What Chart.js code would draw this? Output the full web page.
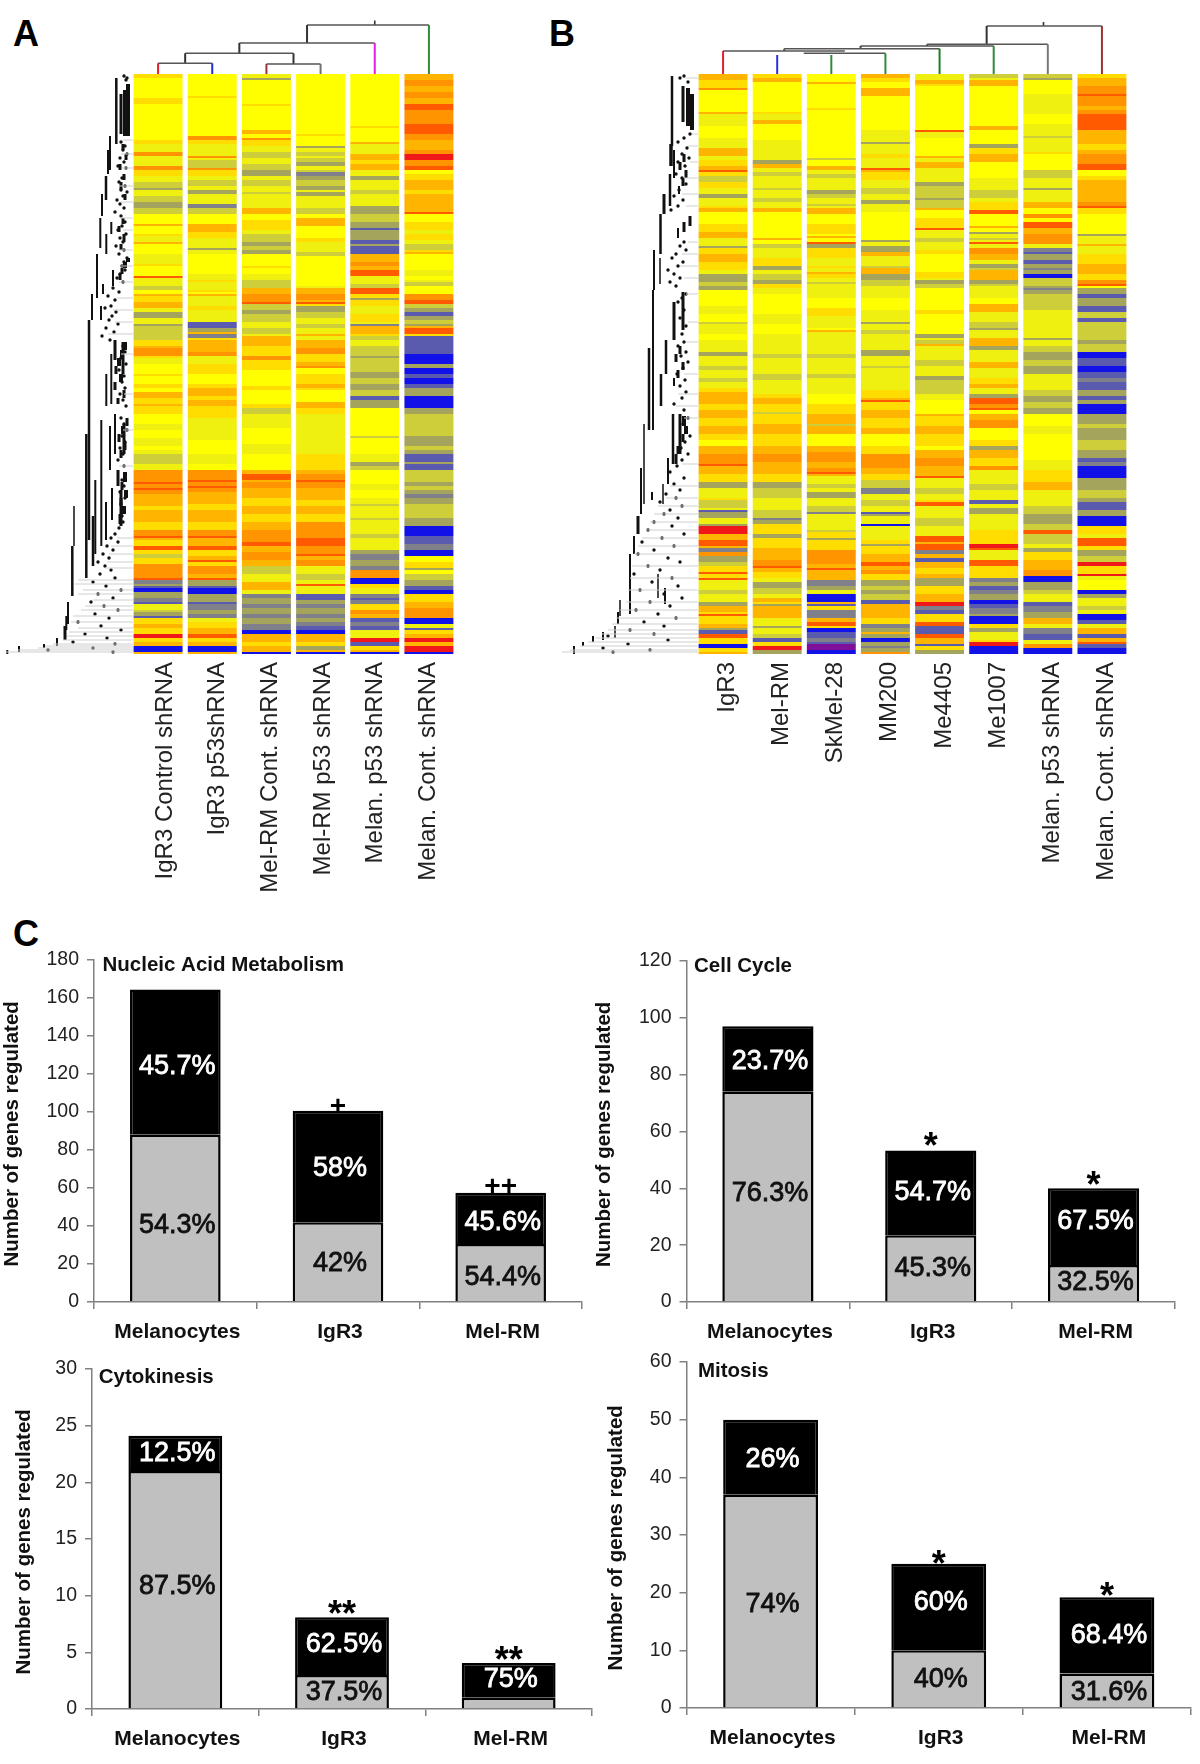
<!DOCTYPE html>
<html><head><meta charset="utf-8">
<script src="https://cdn.jsdelivr.net/npm/chart.js@4"></script>
<style>
html,body{margin:0;padding:0;background:#fff}
#page{position:relative;width:1200px;height:1764px;overflow:hidden;background:#fff}
canvas{position:absolute}
.letter{position:absolute;font:bold 36px "Liberation Sans",Arial,sans-serif;color:#000;line-height:36px}
</style></head><body>
<div id="page">
<div class="letter" style="left:13px;top:16px">A</div>
<div class="letter" style="left:549px;top:16px">B</div>
<div class="letter" style="left:13px;top:916px">C</div>
</div>
<script>
const FONT='"Liberation Sans", Arial, sans-serif';
// ---------- heat map level palette
const heatLevels={Y:'#FFFF00',y:'#F0F010',g:'#CECE3A',k:'#A4A45C',s:'#80808A',p:'#5A5AAE',B:'#1212E8',v:'#80109A',
 L:'#FFDD00',O:'#FFB400',o:'#FF9400',R:'#FF5A00',r:'#F01818'};
const totalRows=290;
// ---------- panel A: bands "startRow+level" per sample
const labelsA=['IgR3 Control shRNA','IgR3 p53shRNA','Mel-RM Cont. shRNA','Mel-RM p53 shRNA','Melan. p53 shRNA','Melan. Cont. shRNA'];
const a1="0L 2Y 12L 15Y 33L 35y 39o 41y 46o 48L 51y 54g 57k 58y 61g 64k 67g 70Y 75O 76Y 80L 81y 84O 85Y 90y 95L 96Y 101R 102y 106g 108Y 110O 111L 114O 117y 119k 122y 125k 126g 133L 136O 137o 141L 142y 145Y 150L 151Y 155L 157Y 159O 162L 165O 166L 170Y 175y 178Y 182y 186Y 188y 190g 195y 198o 204R 205o 207R 208o 210O 216L 218O 224L 228o 231R 232O 233L 236R 238L 240g 242L 245o 252R 253s 255k 256p 257B 259k 262s 264p 265y 268g 269k 271p 272L 275O 277L 280r 282L 284O 286B 289O";
const a2="0Y 11L 12Y 31o 33L 35y 41o 42y 43g 47o 48L 51y 53g 56y 58k 60y 61y 65s 67g 70Y 75O 79L 82y 87k 88y 90Y 100y 103L 104y 108L 109Y 110O 111y 116L 118y 124p 127k 129O 130s 132L 133O 139o 141y 145L 150Y 155L 157O 161L 163O 166L 172y 183Y 190y 195Y 198o 203R 204o 206R 207o 209O 215L 218O 224L 228o 231R 232O 236R 238L 241O 243R 244L 246o 250O 252R 253k 256p 257B 260k 264p 265s 268k 270s 272y 274L 277O 280R 282L 284O 286B 289O";
const a3="0y 2k 3Y 15L 16Y 28O 30Y 32o 33L 36y 39g 42y 45g 48k 51y 53g 56y 59g 60y 67O 70Y 73L 78y 80g 84k 86g 88k 90Y 96L 97Y 100y 103g 107O 110o 114R 115g 118k 120g 124y 127g 130y 131O 133O 136L 141o 143L 148Y 156L 158Y 165L 167g 170y 177Y 185y 190Y 198O 200R 203O 204o 207O 212L 216O 220L 224O 228o 234R 236O 239o 243O 246g 250y 254O 258y 260s 262k 265s 267k 270s 272k 275s 278B 280O 284L 286O 289B";
const a4="0Y 30L 31Y 36k 37y 39g 41y 42g 44k 46y 48g 49s 51k 53g 56k 58y 59k 61y 67g 70Y 72O 76Y 82L 84y 89g 91Y 106y 107O 110o 113O 114R 115L 116k 119g 122y 125g 127y 130O 131y 133O 137o 140L 144O 146o 147Y 150L 155O 157L 158Y 164O 167L 170y 183y 190L 198O 200o 203R 204o 207O 213L 216O 220L 224o 232R 236o 240R 241O 243o 246y 250g 253y 255R 256y 260p 263k 265s 267k 270s 272k 274s 276p 278B 280O 284L 286k 288O 289B";
const a5="0Y 26L 27Y 34O 35y 40O 43L 45O 48y 51k 53y 58g 60y 66k 70g 74k 77p 78k 83p 85k 86p 90O 94o 96O 98R 101y 105g 107R 110L 112k 113L 116y 120L 124y 125s 126O 130L 131g 133y 136g 141k 142g 149k 152g 155k 158g 161p 163k 167Y 181g 182Y 190y 194k 196g 198Y 205y 208Y 212y 215g 216y 222g 223y 230g 232y 238k 240s 243k 246s 248o 252B 255L 257y 260s 262p 263s 265L 268o 270O 272p 274s 276p 278y 282r 284p 286L 288O 289B";
const a6="0O 3o 6O 9o 12O 15R 18o 25R 30o 33O 38o 40r 43o 46R 48Y 50L 53O 58L 60O 69R 70Y 74L 78y 80L 83y 85g 88L 89O 90Y 98y 101Y 103y 104g 106Y 110o 113R 115g 117k 119p 121k 123g 125k 126O 127R 130L 131p 140B 145k 147B 150p 152B 155p 157k 161B 167k 170g 181k 186g 188k 190p 194k 195p 198g 204k 206g 208k 210s 212k 215g 222k 226B 231p 235s 238B 241Y 244L 247k 248Y 250g 253k 256p 258B 260L 264O 267o 272B 275y 277p 278L 280O 282r 284O 286r 289B";
// ---------- panel B
const labelsB=['IgR3','Mel-RM','SkMel-28','MM200','Me4405','Me1007','Melan. p53 shRNA','Melan. Cont. shRNA'];
const b1="0O 3L 7o 8Y 19O 20y 26Y 32y 37O 41y 43L 46O 48R 49L 51g 54L 57y 60k 62y 66L 67O 69Y 75L 79O 82y 86k 87L 90O 94L 98y 100k 104g 106k 108Y 116y 120Y 124g 125y 130Y 133y 139k 141y 146g 148y 152g 154y 157L 159O 165L 168O 172L 176O 180L 183Y 186O 190o 195R 196O 200L 204k 207y 212L 213g 217y 218p 219k 222y 225k 226r 230O 233R 236O 237s 239o 241k 244g 246L 249R 250L 252R 253y 258g 260y 264k 266O 269L 270R 271L 275O 277k 278p 280R 282L 285B 287L 289O";
const b2="0L 2O 4Y 19L 20y 23O 25Y 33y 43k 45O 47y 49g 51y 57g 58y 62g 64y 67O 69Y 82O 83Y 85g 87y 92L 96k 98y 100g 103k 105L 107y 110Y 120y 125Y 130y 133y 140g 142y 150g 153y 160L 162O 165L 169g 170L 175O 180L 186O 190o 194O 200L 204k 207g 212y 218g 222s 223k 225L 228L 230k 232L 237O 243o 246R 247O 249L 252y 254k 257g 260y 262O 264L 265k 266O 272y 276k 277y 280g 282p 284L 286r 288k";
const b3="0Y 4O 5Y 17L 18Y 42g 43Y 46O 48y 50g 52y 58k 60g 62y 65g 66y 67O 70Y 75L 80Y 81O 82Y 84R 85k 87L 92y 96L 97y 99O 100L 102y 104g 105y 112Y 117L 121y 127Y 128O 129y 133y 140g 142y 150g 152y 160Y 165L 170O 175g 176O 180Y 186O 189o 194O 197o 199R 200O 201y 205g 207y 209k 212y 216g 219s 220y 228g 229L 232k 233L 238o 245O 247R 248O 253s 256k 258y 260B 264O 265p 266L 268s 272O 274R 276L 277B 279p 282s 284p 285v 288B";
const b4="0O 2L 4Y 7O 11Y 28y 34k 35y 40L 42y 47R 48O 49L 53y 57g 60y 63k 65y 69Y 83k 84y 86k 89O 91y 96g 97O 100k 103g 106y 112Y 118y 124k 125y 128g 130y 133y 138k 141y 146g 147y 158L 162O 163R 164L 168O 172L 177O 180Y 186L 190o 197O 200L 203g 207s 210y 213g 216y 219p 220k 221y 225B 226y 233L 235k 236L 240O 244R 246O 248o 250L 253k 256g 258k 260g 263p 265O 272L 275s 277k 279O 280k 282B 284k 286s 287k 289o";
const b5="0y 3O 5L 6Y 28R 29y 32Y 41O 42y 44O 47y 54k 56g 62k 63g 67O 68Y 72L 77R 78y 82g 84y 88L 90Y 99L 102y 103k 105g 107Y 118L 120Y 130k 132y 133g 135O 136y 143g 146y 151k 153g 160y 163Y 170O 171L 176O 180L 186Y 188O 192o 196O 201R 202y 207g 210y 213L 214R 216y 222g 226y 231R 234O 235R 238s 240O 242p 244O 247L 250O 252k 256L 260O 264r 266s 268p 270L 274R 276p 280R 282O 285p 286L 288k";
const b6="0g 2y 3O 6Y 26O 28Y 35k 37L 40O 44Y 52y 58g 62y 64L 68R 70Y 76O 77Y 79k 80y 82g 83y 84R 85y 87o 90O 93y 95k 97g 98O 103k 105g 106y 112Y 115O 119y 124g 127k 128y 132O 136k 138y 144O 147y 152L 155O 157y 160k 162R 165o 167R 168Y 170O 173o 177Y 183L 186k 188O 192L 196o 198y 205g 208y 213p 215y 217k 220y 228L 235r 237R 238y 243R 246L 252s 254k 256p 258s 260k 263B 265p 267s 270k 271B 275L 277k 279y 283L 284r 286B";
const b7="0g 2k 3Y 10y 20Y 25y 31g 32y 39L 40Y 48g 52y 57k 58y 64O 67Y 70o 72Y 74R 77O 80o 85y 87s 89p 90k 93p 95k 97s 98k 100B 102g 106k 107s 108k 110g 118y 132k 133y 136g 139k 143g 146k 150y 158g 161k 164g 167k 170Y 176y 180Y 193y 198L 204O 208y 216g 220k 225g 228R 230g 235y 237k 239L 243O 248o 251B 254k 258g 260y 264p 266s 269k 272O 275y 277s 280p 283y 285o 287B";
const b8="0L 2O 6o 10R 11o 16O 18o 20R 28O 35L 38O 40o 45R 48Y 51L 53O 61O 64o 66R 67L 70Y 80k 81y 85O 86y 90L 95O 100L 103o 105R 106Y 107k 110p 112k 116p 119g 122p 124g 133k 135g 139B 142p 146B 149p 152s 154p 158k 161p 163k 165B 170k 175g 177k 183g 188k 192p 194s 196B 202k 208g 212k 214p 218k 221B 226L 230y 232R 236L 238k 241g 244r 246L 250r 251y 253Y 258B 260k 262y 266g 268y 270B 273p 275y 277O 280p 282O 284R 285p 287B";
// ---------- sample dendrograms: merge = [xLeft, hLeft, xRight, hRight, hMerge, colourLeft, colourRight]
const topA=[[0,0,1,0,10.7,'#e02030','#2030d0'],[2,0,3,0,10,'#a03040','#707070'],[0.5,10.7,2.5,10,20.7,'#333','#333'],[1.5,20.7,4,0,31,'#333','#e020e0'],[2.75,31,5,0,49,'#333','#2e8b3a']];
const rootA=[4.0,49,53.5];
const topB=[[0,0,2.25,23,23,'#e02030','#777'],[1.49,20.7,3,0,20.7,'#555','#2e8b3a'],[2,0,2,19,19,'#2e8b3a','#2e8b3a'],[1,0,1,19,19,'#3030e0','#3030e0'],[1.13,23,4,0,25.3,'#555','#1e7b2a'],[2.54,25.3,5,0,28,'#444','#2e8b3a'],[3.77,28,6,0,29.7,'#444','#777'],[4.87,29.7,7,0,48,'#333','#a03030']];
const rootB=[5.92,48,52];
// ---------- gene dendrograms: [distance, rowFrom, rowTo, weight]
const geneSegA=[[16.7,2,35,2.5],[5,5,31,4],[8,8,31,4],[12,10,30,3],[23,31,48,2],[25,38,50,2],[27,51,63,2.5],[31,60,71,2],[32.7,72,87,2],[21.7,74,80,2],[26.7,80,90,2],[36,90,112,2],[20,98,106,2],[30,105,110,2],[41,110,123,2],[32,116,123,2],[44,123,233,2.5],[46.7,180,252,2.5],[18,133,143,3],[21.7,140,165,2],[26.7,150,166,2],[23,176,198,2],[18,170,190,2],[31.7,173,236,2],[37.7,203,240,2],[40,221,246,2.5],[27,214,233,2],[21,207,223,2],[15,198,206,3],[12,208,226,3],[10,134,150,3],[9,175,190,3],[59,216,236,1.5],[60.7,236,261,2.5],[65,264,275,2],[66.7,271,278,2],[68,276,283,3],[76,282,286,2],[89,285,287,2],[114,286,289,2],[125.7,288,290,2],
 [8,134,138,4],[11,138,142,4],[14,142,146,4],[17,146,150,3],[12,150,154,4],[18,154,158,3],[9,158,162,3],[15,162,165,3],[6,172,176,3],[10,176,180,4],[14,180,184,3],[8,184,188,3],[12,188,192,3],[8,199,204,4],[11,204,208,3],[7,208,212,4],[12,212,216,3],[9,216,220,4],[13,220,225,3],[10,35,38,3],[7,40,43,3],[13,45,48,3],[9,50,53,3],[12,54,58,3],[8,60,63,3],[10,72,75,3],[14,76,79,3],[9,80,84,3],[12,85,88,3],[5,92,94,4],[8,94,97,4],[11,97,100,3],[13,100,103,3]];
const geneDotsA=[[9,1],[7,3],[6,2],[12,34],[8,36],[10,38],[6,40],[13,42],[9,44],[15,46],[7,47],[11,52],[14,54],[8,56],[12,58],[6,59],[10,61],[16,63],[13,65],[9,67],[18,69],[12,71],[8,74],[11,76],[15,78],[7,80],[13,82],[10,84],[17,86],[9,88],[14,90],[6,92],[9,94],[11,96],[8,98],[13,100],[16,102],[10,104],[20,107],[14,109],[25,111],[18,113],[22,116],[28,117],[17,119],[21,121],[24,123],[15,125],[27,127],[19,129],[31,131],[23,133],[10,136],[8,139],[12,142],[7,145],[14,148],[9,151],[11,154],[8,157],[13,160],[10,163],[7,166],[12,172],[9,175],[6,178],[11,181],[8,184],[13,187],[10,190],[15,193],[9,196],[8,200],[11,203],[9,206],[13,209],[8,212],[12,215],[9,218],[11,221],[10,224],[14,227],[18,230],[22,232],[15,234],[26,236],[20,238],[30,240],[24,242],[35,244],[28,246],[22,248],[33,250],[18,252],[40,254],[27,256],[12,258],[35,260],[20,262],[42,264],[29,266],[15,268],[38,270],[24,272],[55,274],[32,276],[12,278],[48,280],[26,282],[60,284],[18,285],[40,287],[85,288],[20,289]];
const geneLeafA=[[10,33],[12,40],[11,47],[14,56],[12,64],[13,72],[10,78],[14,88],[12,96],[14,104],[16,112],[20,118],[18,124],[25,130],[12,140],[9,160],[10,178],[14,196],[16,232],[22,236],[24,240],[26,244],[28,247],[55,253],[58,255],[50,258],[55,260],[40,263],[48,266],[52,268],[60,271],[62,274],[55,277],[64,279],[66,281],[70,283],[80,285],[88,286],[95,287],[115,288],[128,289]];
const geneSegB=[[26,1,36,2.5],[6,10,28,4],[10,7,26,4],[15,6,24,3],[27,35,46,3.5],[24,38,52,2],[34,60,70,3],[28,50,66,2.5],[37.5,70,90,2.5],[44,88,108,2],[38,92,105,1.5],[8,71,76,3],[14,74,79,3],[20,77,82,2],[45,108,178,2],[49,137,178,2.5],[15,109,128,3],[24,114,133,3],[32,133,150,2.5],[37,150,166,2.5],[54,175,215,1.5],[57,197,220,2],[46,209,213,2],[25,170,195,2.5],[18,170,190,3],[30,192,205,2],[35,205,215,1.5],[60,221,230,3],[64,231,240,2],[68,240,270,2],[78,263,271,1.5],[80,269,275,2],[83,276,282,1.5],[95,279,283,2],[105,281,284,2],[115,284,286,2],[124,286,290,2],[40,250,262,1.5],[33,257,265,2],
 [14,171,176,4],[12,176,180,4],[15,180,184,3],[20,186,190,3],[22,190,195,3],[14,40,44,3],[18,44,48,3],[12,48,52,3],[15,52,56,3],[19,56,60,2],[18,136,140,3],[22,140,144,3],[15,144,148,3],[20,148,152,3],[24,152,156,2]];
const geneDotsB=[[14,1],[18,2],[10,4],[8,30],[14,32],[20,34],[11,37],[16,40],[9,42],[20,44],[13,46],[22,50],[16,52],[12,55],[19,58],[24,61],[15,63],[20,66],[27,68],[14,84],[18,86],[12,88],[22,90],[26,92],[15,94],[20,96],[30,98],[24,100],[18,102],[28,104],[22,106],[12,110],[16,112],[20,114],[14,118],[18,122],[12,126],[16,130],[14,134],[20,136],[12,139],[17,141],[10,144],[15,147],[21,150],[13,153],[18,156],[12,159],[16,162],[24,165],[14,168],[10,172],[15,175],[12,178],[8,181],[13,184],[17,187],[10,190],[16,193],[21,196],[28,199],[14,202],[24,205],[18,208],[32,210],[22,212],[38,214],[16,216],[28,218],[34,220],[20,222],[44,224],[26,226],[50,228],[14,230],[36,232],[56,234],[24,236],[44,238],[60,240],[30,242],[18,244],[50,246],[38,248],[64,250],[26,252],[46,254],[20,256],[58,258],[34,260],[16,262],[48,264],[28,266],[62,268],[40,270],[22,272],[54,274],[34,276],[68,278],[44,280],[90,281],[30,283],[70,285],[95,287],[48,288],[85,289]];
const geneLeafB=[[12,2],[6,30],[10,36],[8,44],[14,52],[16,60],[12,66],[10,84],[16,90],[18,96],[14,102],[12,110],[10,124],[12,134],[14,150],[20,160],[22,166],[14,172],[16,195],[28,206],[32,212],[40,216],[44,220],[48,224],[52,228],[56,232],[60,236],[64,240],[66,246],[68,252],[70,258],[72,264],[78,268],[82,272],[86,275],[90,278],[96,280],[102,282],[110,284],[118,286],[128,288],[136,289]];
// ---------- bar panels
const barCategories=['Melanocytes','IgR3','Mel-RM'];
const nucleicGray=[88,42,30.5], nucleicBlack=[76.5,58.7,27];
const nucleicPct=[[0,124,'45.7%','#fff'],[0,40.4,'54.3%','#111'],[1,70,'58%','#fff'],[1,20,'42%','#111'],[2,42,'45.6%','#fff'],[2,13,'54.4%','#111']];
const nucleicMarks=[[1,102.5,'+'],[2,60.5,'++']];
const cycleGray=[74,23.5,13], cycleBlack=[23,29.8,27];
const cyclePct=[[0,84.6,'23.7%','#fff'],[0,38,'76.3%','#111'],[1,38.4,'54.7%','#fff'],[1,11.8,'45.3%','#111'],[2,28.2,'67.5%','#fff'],[2,6.7,'32.5%','#111']];
const cycleMarks=[[1,57.2,'*'],[2,43.5,'*']];
const cytoGray=[21,3,1], cytoBlack=[3.1,5.1,3.05];
const cytoPct=[[0,22.5,'12.5%','#fff'],[0,10.8,'87.5%','#111'],[1,5.65,'62.5%','#fff'],[1,1.43,'37.5%','#111'],[2,2.64,'75%','#fff']];
const cytoMarks=[[1,9.03,'**'],[2,4.94,'**']];
const mitosisGray=[37,10,6], mitosisBlack=[13,15,13.2];
const mitosisPct=[[0,43,'26%','#fff'],[0,18,'74%','#111'],[1,18.2,'60%','#fff'],[1,5,'40%','#111'],[2,12.5,'68.4%','#fff'],[2,2.6,'31.6%','#111']];
const mitosisMarks=[[1,26.2,'*'],[2,20.6,'*']];
const yTitle='Number of genes regulated';

Chart.defaults.animation=false;
Chart.defaults.font.family=FONT;
const page=document.getElementById('page');
function mk(l,t,w,h){const c=document.createElement('canvas');c.width=w;c.height=h;c.style.left=l+'px';c.style.top=t+'px';c.style.width=w+'px';c.style.height=h+'px';page.appendChild(c);return c;}
const noPlug={legend:{display:false},tooltip:{enabled:false},title:{display:false}};
function zeroPad(s){s.paddingLeft=0;s.paddingRight=0;s.paddingTop=0;s.paddingBottom=0;}

function parseBands(s){const p=s.trim().split(/\s+/).map(t=>({start:parseInt(t),code:t.replace(/[0-9]/g,'')}));
 return p.map((b,i)=>({len:Math.max(0,(i+1<p.length?p[i+1].start:totalRows)-b.start),color:heatLevels[b.code]}));}
function heat(left,top,width,labels,cols,labMin,labMax){
 const bands=cols.map(parseBands), n=Math.max(...bands.map(b=>b.length)), datasets=[];
 for(let j=0;j<n;j++)datasets.push({data:bands.map(b=>b[j]?b[j].len:0),backgroundColor:bands.map(b=>b[j]?b[j].color:'rgba(0,0,0,0)'),borderWidth:0,stack:'h',xAxisID:'x',yAxisID:'y',barPercentage:1,categoryPercentage:0.904});
 new Chart(mk(left,top,width,830),{type:'bar',data:{labels,datasets},options:{responsive:false,plugins:noPlug,layout:{padding:0,autoPadding:false},
  scales:{x:{display:false,stacked:true},
   y:{display:false,stacked:true,reverse:true,min:0,max:totalRows},
   xl:{type:'linear',position:'bottom',offset:false,bounds:'data',min:labMin,max:labMax,grid:{display:false,offset:false},border:{display:false},
     afterBuildTicks:s=>{s.ticks=labels.map((_,i)=>({value:i}));s.min=labMin;s.max=labMax;},afterFit:s=>{s.height=250;zeroPad(s);},
     ticks:{callback:v=>labels[v],autoSkip:false,minRotation:90,maxRotation:90,padding:0,color:'#222',font:{size:24,family:FONT}}}}}});
}
heat(131,74,325,labelsA,[a1,a2,a3,a4,a5,a6],-0.648,5.531);
heat(696,74,433,labelsB,[b1,b2,b3,b4,b5,b6,b7,b8],-0.576,7.413);

function line(pts,color,w){return {data:pts,borderColor:color,borderWidth:w,showLine:true,pointRadius:0,fill:false,tension:0};}
function topDend(left,width,n,merges,root){
 const ds=[];
 merges.forEach(m=>{const [xl,hl,xr,hr,h,cl,cr]=m;
  ds.push(line([{x:xl,y:hl},{x:xl,y:h}],cl,2));
  ds.push(line([{x:xr,y:hr},{x:xr,y:h}],cr,2));
  if(xl!==xr)ds.push(line([{x:xl,y:h},{x:xr,y:h}],'#555',1.6));});
 ds.push(line([{x:root[0],y:root[1]},{x:root[0],y:root[2]}],'#333',1.6));
 new Chart(mk(left,0,width,74),{type:'scatter',data:{datasets:ds},options:{responsive:false,plugins:noPlug,layout:{padding:0,autoPadding:false},
  scales:{x:{display:false,min:-0.5,max:n-0.5},y:{display:false,min:0,max:74}}}});
}
topDend(131,325,6,topA,rootA);
topDend(696,433,8,topB,rootB);

function geneDend(left,width,segs,dots,leaves){
 const ds=[];
 leaves.forEach(l=>ds.push(line([{x:0,y:l[1]},{x:l[0],y:l[1]}],'#cfcfcf',1)));
 segs.forEach(s=>ds.push(line([{x:s[0],y:s[1]},{x:s[0],y:s[2]}],'#111',s[3])));
 ds.push({data:dots.map(d=>({x:d[0],y:d[1]})),showLine:false,pointRadius:1.7,pointBackgroundColor:'#111',pointBorderWidth:0});
 new Chart(mk(left,74,width,580),{type:'scatter',data:{datasets:ds},options:{responsive:false,plugins:noPlug,layout:{padding:0,autoPadding:false},
  scales:{x:{display:false,reverse:true,min:0,max:width},y:{display:false,reverse:true,min:0,max:totalRows}}}});
}
geneDend(0,133,geneSegA,geneDotsA,geneLeafA);
geneDend(558,140,geneSegB,geneDotsB,geneLeafB);

const textPlugin={id:'barText',
 beforeDatasetsDraw(c,a,o){const ctx=c.ctx;ctx.save();ctx.textAlign='center';ctx.textBaseline='middle';ctx.fillStyle='#000';ctx.font='bold 28px '+FONT;
  (o.marks||[]).filter(m=>m[2][0]==='+').forEach(m=>ctx.fillText(m[2],c.scales.x.getPixelForValue(m[0]),c.scales.y.getPixelForValue(m[1])));ctx.restore();},
 afterDatasetsDraw(c,a,o){const ctx=c.ctx;ctx.save();ctx.textAlign='center';ctx.textBaseline='middle';
  ctx.font='27px '+FONT;ctx.lineWidth=0.8;
  (o.pct||[]).forEach(p=>{const x=c.scales.x.getPixelForValue(p[0])+2,y=c.scales.y.getPixelForValue(p[1]);ctx.fillStyle=p[3];ctx.strokeStyle=p[3];ctx.fillText(p[2],x,y);ctx.strokeText(p[2],x,y);});
  ctx.textBaseline='alphabetic';ctx.fillStyle='#000';ctx.font='bold 36px '+FONT;
  (o.marks||[]).filter(m=>m[2][0]==='*').forEach(m=>ctx.fillText(m[2],c.scales.x.getPixelForValue(m[0]),c.scales.y.getPixelForValue(m[1])+19));
  ctx.textAlign='left';ctx.textBaseline='middle';ctx.fillStyle='#111';ctx.font='bold 20.5px '+FONT;
  ctx.fillText(o.title,c.chartArea.left+o.tx,c.chartArea.top+o.ty);ctx.restore();}};

function bars(g){
 const axis='#808080';
 const grid={display:true,drawOnChartArea:false,drawTicks:true,tickLength:7,color:axis,lineWidth:1.5};
 new Chart(mk(g.l,g.t,g.w,g.h),{type:'bar',plugins:[textPlugin],
  data:{labels:barCategories,datasets:[
   {data:g.gray,backgroundColor:'#c0c0c0',borderColor:'#000',borderWidth:2.5,barPercentage:1,categoryPercentage:g.cp},
   {data:g.black,backgroundColor:'#000',borderColor:'#000',borderWidth:2.5,barPercentage:1,categoryPercentage:g.cp}]},
  options:{responsive:false,layout:{autoPadding:false,padding:{left:0,top:g.pt,right:g.pr,bottom:0}},
   plugins:{...noPlug,barText:{pct:g.pct,marks:g.marks,title:g.title,tx:g.tx,ty:g.ty}},
   scales:{
    x:{stacked:true,offset:true,grid:{...grid,offset:true},border:{display:true,color:axis,width:1.5},afterFit:s=>{s.height=g.xh;zeroPad(s);},
       ticks:{autoSkip:false,maxRotation:0,padding:11,labelOffset:2,color:'#111',font:{size:21,weight:'bold',family:FONT}}},
    y:{stacked:true,min:0,max:g.max,grid,border:{display:true,color:axis,width:1.5},afterFit:s=>{s.width=g.yw;zeroPad(s);},
       ticks:{stepSize:g.step,padding:8,color:'#222',font:{size:19.5,family:FONT}},
       title:{display:true,text:yTitle+' ',color:'#111',padding:{top:g.tp,bottom:0},font:{size:20.5,weight:'bold',family:FONT}}}}}});
}
bars({l:0,t:950,w:590,h:400,yw:94,xh:48,pt:10,pr:8,cp:0.557,max:180,step:20,gray:nucleicGray,black:nucleicBlack,pct:nucleicPct,marks:nucleicMarks,title:'Nucleic Acid Metabolism',tx:8.5,ty:5,tp:0});
bars({l:590,t:950,w:600,h:400,yw:96.5,xh:48,pt:11,pr:15,cp:0.56,max:120,step:20,gray:cycleGray,black:cycleBlack,pct:cyclePct,marks:cycleMarks,title:'Cell Cycle',tx:7.5,ty:5,tp:2.5});
bars({l:0,t:1360,w:600,h:400,yw:92,xh:51,pt:9,pr:8,cp:0.563,max:30,step:5,gray:cytoGray,black:cytoBlack,pct:cytoPct,marks:cytoMarks,title:'Cytokinesis',tx:6.7,ty:8.5,tp:12});
bars({l:590,t:1352,w:610,h:410,yw:96.5,xh:54,pt:10,pr:9,cp:0.564,max:60,step:10,gray:mitosisGray,black:mitosisBlack,pct:mitosisPct,marks:mitosisMarks,title:'Mitosis',tx:11.5,ty:9.5,tp:14});
</script>
</body></html>
